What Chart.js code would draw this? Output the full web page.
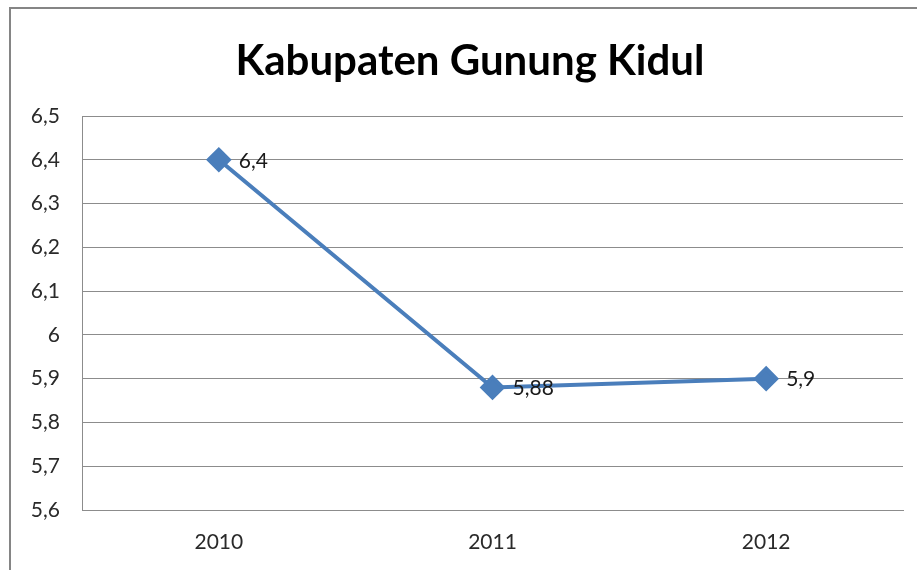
<!DOCTYPE html>
<html>
<head>
<meta charset="utf-8">
<script src="https://cdn.jsdelivr.net/npm/chart.js@4"></script>
<style>
  html, body { margin: 0; padding: 0; background: #fff; }
  #wrap { width: 917px; height: 570px; position: relative; }
</style>
</head>
<body>
<div id="wrap"><canvas id="chart"></canvas></div>
<script>
// data
const years = ['2010', '2011', '2012'];
const values = [6.4, 5.88, 5.9];
const valueLabels = ['6,4', '5,88', '5,9'];
const chartTitle = 'Kabupaten Gunung Kidul';

const lineColor = '#4a7ebb';
const gridColor = '#8c8c8c';
const fontFamily = 'Lato, "Open Sans", sans-serif';

// outer frame of the chart (only top and left show in the picture) + title
const framePlugin = {
  id: 'frame',
  beforeDraw(chart) {
    const c = chart.ctx;
    c.save();
    c.strokeStyle = '#858585';
    c.lineWidth = 2;
    c.beginPath();
    c.moveTo(10, 600);
    c.lineTo(10, 8);
    c.lineTo(950, 8);
    c.stroke();
    // title sits a bit right of the canvas centre, like the original frame
    c.font = 'bold 42px ' + fontFamily;
    c.fillStyle = '#000';
    c.textAlign = 'center';
    c.textBaseline = 'middle';
    c.fillText(chartTitle, 470, 61);
    c.restore();
  }
};

// value labels to the right of each point
const labelPlugin = {
  id: 'valueLabels',
  afterDatasetsDraw(chart) {
    const c = chart.ctx;
    const meta = chart.getDatasetMeta(0);
    c.save();
    c.font = '21px ' + fontFamily;
    c.fillStyle = '#1a1a1a';
    c.textAlign = 'left';
    c.textBaseline = 'middle';
    meta.data.forEach((pt, i) => {
      c.fillText(valueLabels[i], pt.x + 20, pt.y + 1);
    });
    c.restore();
  }
};

new Chart(document.getElementById('chart'), {
  type: 'line',
  data: {
    labels: years,
    datasets: [{
      data: values,
      borderColor: lineColor,
      backgroundColor: lineColor,
      borderWidth: 4,
      pointStyle: 'rectRot',
      pointRadius: 10,
      pointHoverRadius: 10,
      tension: 0
    }]
  },
  options: {
    responsive: true,
    maintainAspectRatio: false,
    animation: false,
    layout: { padding: { left: 0, right: 14, top: 116, bottom: 0 } },
    plugins: {
      legend: { display: false },
      tooltip: { enabled: false },
      title: { display: false }
    },
    scales: {
      x: {
        offset: true,
        grid: { display: false, drawTicks: false },
        border: { display: true, color: gridColor, width: 1 },
        ticks: {
          color: '#2a2a2a',
          font: { family: fontFamily, size: 21 },
          padding: 20
        },
        afterFit(scale) { scale.height = 60; }
      },
      y: {
        min: 5.6,
        max: 6.5,
        grid: { color: gridColor, lineWidth: 1, drawTicks: false },
        border: { display: true, color: gridColor, width: 1 },
        ticks: {
          stepSize: 0.1,
          color: '#2a2a2a',
          font: { family: fontFamily, size: 21 },
          padding: 22,
          callback: v => {
            const s = (Math.round(v * 10) / 10).toString();
            return s.replace('.', ',');
          }
        },
        afterFit(scale) { scale.width = 82; }
      }
    }
  },
  plugins: [framePlugin, labelPlugin]
});
</script>
</body>
</html>
